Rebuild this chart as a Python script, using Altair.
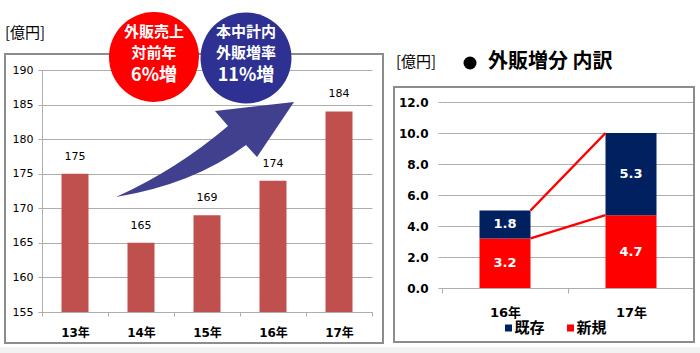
import altair as alt
import pandas as pd

# ---------------- data ----------------
years = ["13年", "14年", "15年", "16年", "17年"]
sales = [175, 165, 169, 174, 184]

sub_years = ["16年", "17年"]
series_names = ["既存", "新規"]
existing = [1.8, 5.3]
new = [3.2, 4.7]
series_colors = ["#002060", "#FF0000"]

left_ticks = [155, 160, 165, 170, 175, 180, 185, 190]
right_ticks = [0, 2, 4, 6, 8, 10, 12]

# ---------------- layout constants ----------------
L_X0, L_Y0 = 42, 70          # left plot origin on page
L_W, L_H = 330, 242
R_X0 = 442
R_W, R_H = 252, 218
R_YMAX = 218 / 15.5

FONT = "DejaVu Sans, Noto Sans CJK JP"
CJK = "Noto Sans CJK JP"
GRID = "#ADADAD"
FRAME = "#8C8C8C"

one = pd.DataFrame({"a": [0]})


def lx(px):
    return alt.value(px - L_X0)


def ly(py):
    return alt.value(py - L_Y0)


def rx(px):
    return alt.value(px - R_X0)


def txt(s, x, y, size, color="#000000", weight="normal", align="center", font=CJK, side="L"):
    fx = lx if side == "L" else rx
    return alt.Chart(one).mark_text(
        text=s, fontSize=size, fontWeight=weight, color=color, align=align,
        baseline="middle", font=font
    ).encode(x=fx(x), y=ly(y))


# ---------------- left chart ----------------
left_df = pd.DataFrame({"year": years, "sales": sales})

# invisible page-sized box: fixes the overall extent of the drawing
canvas_box = alt.Chart(one).mark_rect(fill="white", opacity=0).encode(
    x=lx(0), x2=lx(700), y=ly(0), y2=ly(353))
bottom_strip = alt.Chart(one).mark_rect(fill="#F2F2F2").encode(
    x=lx(0), x2=lx(700), y=ly(347), y2=ly(353))
left_frame = alt.Chart(one).mark_rect(fillOpacity=0, stroke=FRAME, strokeWidth=2).encode(
    x=lx(5), x2=lx(383), y=ly(54), y2=ly(343))

xL = alt.X("year:N", sort=years, scale=alt.Scale(paddingInner=0, paddingOuter=0),
           axis=alt.Axis(title=None, labelAngle=0, tickBand="extent", tickSize=4,
                         tickColor=GRID, domainColor=GRID, grid=False,
                         labelFont=FONT, labelFontSize=12, labelFontWeight="bold",
                         labelColor="#000000", labelPadding=11))
yL = alt.Y("sales:Q", scale=alt.Scale(domain=[155, 190], nice=False, zero=False),
           axis=alt.Axis(title=None, values=left_ticks, tickCount=len(left_ticks),
                         tickSize=4, tickColor=GRID,
                         domainColor=GRID, gridColor=GRID, labelFont=FONT,
                         labelFontSize=11, labelPadding=5, labelColor="#000000",
                         labelOverlap=False))

bars = alt.Chart(left_df).mark_bar(size=27, color="#C0504D").encode(
    x=xL, y=yL, y2=alt.datum(155))
bar_labels = alt.Chart(left_df).mark_text(
    font=FONT, fontSize=11, color="#000000", baseline="middle", dy=-17
).encode(x=alt.X("year:N", sort=years), y="sales:Q", text="sales:Q")

arrow_path = ("M0,0 L-37,55 L-48,43 Q-100,82 -178,95 "
              "Q-118,68 -66,24 L-79,9 Z")
arrow = alt.Chart(one).mark_point(
    shape=arrow_path, size=4, filled=True, color="#40408F", opacity=1, strokeWidth=0
).encode(x=lx(294), y=ly(102))

red_circle = alt.Chart(one).mark_point(
    shape="circle", size=90 * 90, filled=True, color="#FF0000", opacity=1, strokeWidth=0
).encode(x=lx(154), y=ly(57))
blue_circle = alt.Chart(one).mark_point(
    shape="circle", size=91 * 91, filled=True, color="#2E3192", opacity=1, strokeWidth=0
).encode(x=lx(246), y=ly(58))

left = alt.layer(
    canvas_box, bottom_strip, left_frame, bars, bar_labels, arrow,
    red_circle, blue_circle,
    txt("外販売上", 154, 32, 15, "white", "bold"),
    txt("対前年", 154, 53, 15, "white", "bold"),
    txt("6%増", 154, 76, 18, "white", "bold"),
    txt("本中計内", 246, 32, 15, "white", "bold"),
    txt("外販増率", 246, 53, 15, "white", "bold"),
    txt("11%増", 246, 76, 18, "white", "bold"),
    txt("[億円]", 25, 33, 15, "#000000"),
).properties(width=L_W, height=L_H)

# ---------------- right chart ----------------
rows = []
for i, yr in enumerate(sub_years):
    rows.append({"year": yr, "series": series_names[1], "v": new[i], "ord": 0,
                 "mid": new[i] / 2})
    rows.append({"year": yr, "series": series_names[0], "v": existing[i], "ord": 1,
                 "mid": new[i] + existing[i] / 2})
right_df = pd.DataFrame(rows)

line_df = pd.DataFrame({
    "a": [sub_years[0], sub_years[0]],
    "b": [sub_years[1], sub_years[1]],
    "y1": [new[0], new[0] + existing[0]],
    "y2": [new[1], new[1] + existing[1]],
})

legend_df = pd.DataFrame({"name": series_names, "color": series_colors,
                          "sx": [508.5 - R_X0, 570.5 - R_X0]})

xR = alt.X("year:N", sort=sub_years, scale=alt.Scale(paddingInner=0, paddingOuter=0),
           axis=alt.Axis(title=None, labelAngle=0, tickBand="extent", tickSize=5,
                         tickColor=GRID, domainColor=GRID, grid=False,
                         labelFont=FONT, labelFontSize=13, labelFontWeight="bold",
                         labelColor="#000000", labelPadding=13))
yR = alt.Y("v:Q", stack="zero", scale=alt.Scale(domain=[0, R_YMAX], nice=False),
           axis=alt.Axis(title=None, values=right_ticks, tickCount=len(right_ticks),
                         format=".1f", tickSize=4,
                         tickColor=GRID, domain=False, gridColor=GRID,
                         labelFont=FONT, labelFontSize=12, labelFontWeight="bold",
                         labelPadding=10, labelColor="#000000", labelOverlap=False))

right_frame = alt.Chart(one).mark_rect(fillOpacity=0, stroke=FRAME, strokeWidth=2).encode(
    x=rx(394), x2=rx(694), y=ly(87), y2=ly(342))

sbars = alt.Chart(right_df).mark_bar(size=51).encode(
    x=xR, y=yR,
    color=alt.Color("series:N", scale=alt.Scale(domain=series_names, range=series_colors),
                    legend=None),
    order=alt.Order("ord:Q"))
sbar_labels = alt.Chart(right_df).mark_text(
    font=FONT, fontSize=13, fontWeight="bold", color="white", baseline="middle"
).encode(x=alt.X("year:N", sort=sub_years), y="mid:Q", text=alt.Text("v:Q", format=".1f"))

links = alt.Chart(line_df).mark_rule(
    color="#FF0000", strokeWidth=2.5, xOffset=25.5, x2Offset=-25.5
).encode(x=alt.X("a:N", sort=sub_years), x2="b:N", y="y1:Q", y2="y2:Q")

leg_sym = alt.Chart(legend_df).mark_point(
    shape="square", size=49, filled=True, opacity=1, strokeWidth=0
).encode(x=alt.X("sx:Q", scale=None), y=ly(328),
         fill=alt.Fill("color:N", scale=None))
leg_txt = alt.Chart(legend_df).mark_text(
    font=CJK, fontSize=15, fontWeight="bold", color="#000000", align="left",
    baseline="middle", dx=6
).encode(x=alt.X("sx:Q", scale=None), y=ly(328), text="name:N")

title_dot = alt.Chart(one).mark_point(
    shape="circle", size=169, filled=True, color="#000000", opacity=1, strokeWidth=0
).encode(x=rx(470), y=ly(63))

right = alt.layer(
    right_frame, sbars, sbar_labels, links,
    txt("[億円]", 416, 62, 15, "#000000", side="R"),
    title_dot,
    txt("外販増分 内訳", 488, 62, 20, "#000000", "bold", align="left", side="R"),
    leg_sym, leg_txt,
).properties(width=R_W, height=R_H)

chart = alt.hconcat(left, right, spacing=70, bounds="flush", padding=0).configure_view(
    strokeWidth=0)

chart.save("out.html", embed_options={"renderer": "svg", "actions": False})
